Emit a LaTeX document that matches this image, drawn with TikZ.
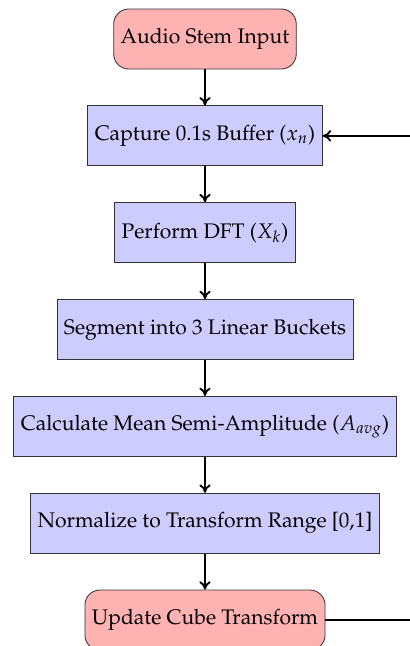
\documentclass[tikz,border=0pt]{standalone}
\usepackage[T1]{fontenc}
\usepackage{mathpazo}
\usetikzlibrary{positioning,calc,arrows.meta}
\tikzset{
  terminal/.style={rectangle, rounded corners=2.5mm, draw=black!80, fill=red!30,
    minimum width=3cm, minimum height=1cm, align=center},
  process/.style={rectangle, draw=black!80, fill=blue!20,
    minimum width=3cm, minimum height=1cm, align=center},
  flow/.style={line width=0.9pt, -{To[length=1.4mm,width=1.9mm]}},
}
\begin{document}
\begin{tikzpicture}[node distance=0.6cm]
  \useasboundingbox (0,0) rectangle (6.833,-10.767);
  \node[terminal] (input) at (3.4167,-0.65) {Audio Stem Input};
  \node[process, below=of input] (capture) {Capture 0.1s Buffer ($x_n$)};
  \node[process, below=of capture] (dft) {Perform DFT ($X_k$)};
  \node[process, below=of dft] (segment) {Segment into 3 Linear Buckets};
  \node[process, below=of segment] (mean) {Calculate Mean Semi-Amplitude ($A_{avg}$)};
  \node[process, below=of mean] (norm) {Normalize to Transform Range [0,1]};
  \node[terminal, below=of norm] (update) {Update Cube Transform};

  \draw[flow] (input) -- (capture);
  \draw[flow] (capture) -- (dft);
  \draw[flow] (dft) -- (segment);
  \draw[flow] (segment) -- (mean);
  \draw[flow] (mean) -- (norm);
  \draw[flow] (norm) -- (update);

  % feedback loop back to the buffer stage
  \coordinate (turn) at ($(update.east)+(2,0)$);
  \draw[flow] (update.east) -- (turn) |- (capture.east);
\end{tikzpicture}
\end{document}
